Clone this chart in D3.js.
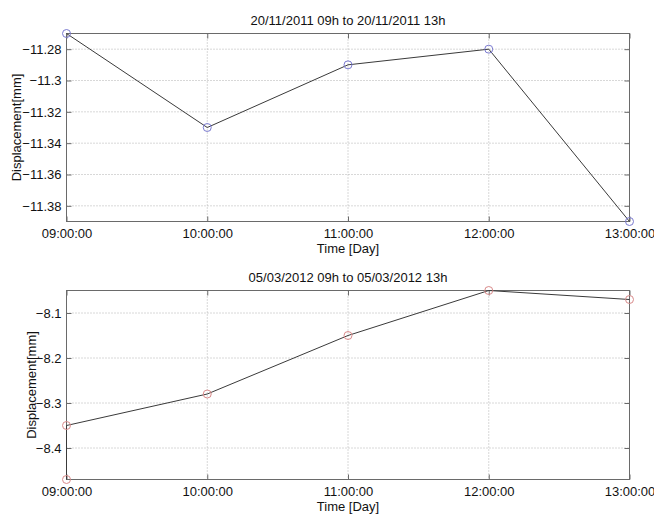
<!DOCTYPE html>
<html>
<head>
<meta charset="utf-8">
<script src="https://cdn.jsdelivr.net/npm/d3@7"></script>
<style>
	body { margin: 0; background: #fff; }
	svg text { font-family: "Liberation Sans", Arial, sans-serif; fill: #111; }
	.grid line { stroke: #b0b0b0; stroke-dasharray: 1, 2; }
</style>
</head>
<body>
<svg id="svg-chart"></svg>
<script>
/*=================
=== The data
=================*/
var hourTicks = ['09', '10', '11', '12', '13'];

// 20/11/2011
var novHours = ['09', '10', '11', '12', '13'];
var novValues = [-11.27, -11.33, -11.29, -11.28, -11.39];

// 05/03/2012 (two readings at 09h)
var marHours = ['09', '09', '10', '11', '12', '13'];
var marValues = [-8.47, -8.35, -8.28, -8.15, -8.05, -8.07];

var winWidth = 654;
var winHeight = 514;

var svg = d3.select('#svg-chart')
	.attr('width', winWidth)
	.attr('height', winHeight);

var parseTime = d3.timeParse('%d/%m/%Y %H');

function drawPanel(cfg) {
	var x = d3.scaleTime()
		.domain([parseTime(cfg.day + ' 09'), parseTime(cfg.day + ' 13')])
		.range([66.5, 629.5]);
	var y = d3.scaleLinear()
		.domain(cfg.yDomain)
		.range([cfg.bottom, cfg.top]);

	var g = svg.append('g');
	var ticksX = hourTicks.map(function (h) { return parseTime(cfg.day + ' ' + h); });

	// grid
	var grid = g.append('g').attr('class', 'grid');
	grid.selectAll('.gx').data(ticksX).enter().append('line')
		.attr('x1', function (d) { return x(d); }).attr('x2', function (d) { return x(d); })
		.attr('y1', cfg.top).attr('y2', cfg.bottom);
	grid.selectAll('.gy').data(cfg.yTicks).enter().append('line')
		.attr('y1', function (d) { return y(d); }).attr('y2', function (d) { return y(d); })
		.attr('x1', 66.5).attr('x2', 629.5);

	// axes, ticks pointing inwards like matlab
	var xAxis = g.append('g')
		.attr('transform', 'translate(0,' + cfg.bottom + ')')
		.call(d3.axisBottom(x).tickValues(ticksX).tickFormat(d3.timeFormat('%H:%M:%S')).tickSize(-5).tickPadding(7));
	var xTop = g.append('g')
		.attr('transform', 'translate(0,' + cfg.top + ')')
		.call(d3.axisTop(x).tickValues(ticksX).tickFormat('').tickSize(-5));
	var yAxis = g.append('g')
		.attr('transform', 'translate(66.5,0)')
		.call(d3.axisLeft(y).tickValues(cfg.yTicks).tickFormat(d3.format('')).tickSize(-5).tickPadding(5));
	var yRight = g.append('g')
		.attr('transform', 'translate(629.5,0)')
		.call(d3.axisRight(y).tickValues(cfg.yTicks).tickFormat('').tickSize(-5));

	g.selectAll('.domain').attr('stroke', '#6a6a6a');
	g.selectAll('.tick line').attr('stroke', '#6a6a6a');
	g.selectAll('.tick text').style('font-size', '13px').attr('fill', '#111');
	// straight frame lines (no outer ticks)
	[xAxis, xTop, yAxis, yRight].forEach(function (a) { a.select('.domain').remove(); });
	g.append('rect')
		.attr('x', 66.5).attr('y', cfg.top)
		.attr('width', 563).attr('height', cfg.bottom - cfg.top)
		.attr('fill', 'none').attr('stroke', '#6a6a6a');

	var pts = cfg.hours.map(function (h, i) {
		return { t: parseTime(cfg.day + ' ' + h), v: cfg.values[i] };
	});

	var myLine = d3.line()
		.x(function (d) { return x(d.t); })
		.y(function (d) { return y(d.v); });

	g.append('path')
		.datum(pts)
		.attr('d', myLine)
		.attr('fill', 'none')
		.attr('stroke', '#3a3a3a')
		.attr('stroke-width', 1);

	g.selectAll('.pt').data(pts).enter().append('circle')
		.attr('cx', function (d) { return x(d.t); })
		.attr('cy', function (d) { return y(d.v); })
		.attr('r', 4)
		.attr('fill', 'none')
		.attr('stroke', cfg.marker)
		.attr('stroke-width', 1);

	// titles
	g.append('text')
		.attr('x', 348).attr('y', cfg.top - 9)
		.attr('text-anchor', 'middle')
		.style('font-size', '13px')
		.text(cfg.title);
	g.append('text')
		.attr('x', 348).attr('y', cfg.bottom + 31)
		.attr('text-anchor', 'middle')
		.style('font-size', '13px')
		.text('Time [Day]');
	g.append('text')
		.attr('transform', 'translate(' + cfg.yLabelX + ',' + ((cfg.top + cfg.bottom) / 2) + ') rotate(-90)')
		.attr('text-anchor', 'middle')
		.style('font-size', '13px')
		.text('Displacement[mm]');
}

drawPanel({
	day: '20/11/2011',
	hours: novHours,
	values: novValues,
	yDomain: [-11.39, -11.27],
	yTicks: [-11.38, -11.36, -11.34, -11.32, -11.3, -11.28],
	top: 33.5,
	bottom: 221.5,
	marker: '#7a7ad0',
	yLabelX: 21,
	title: '20/11/2011 09h to 20/11/2011 13h'
});

drawPanel({
	day: '05/03/2012',
	hours: marHours,
	values: marValues,
	yDomain: [-8.47, -8.05],
	yTicks: [-8.4, -8.3, -8.2, -8.1],
	top: 290.5,
	bottom: 479.5,
	marker: '#d98a8a',
	yLabelX: 36,
	title: '05/03/2012 09h to 05/03/2012 13h'
});
</script>
</body>
</html>
